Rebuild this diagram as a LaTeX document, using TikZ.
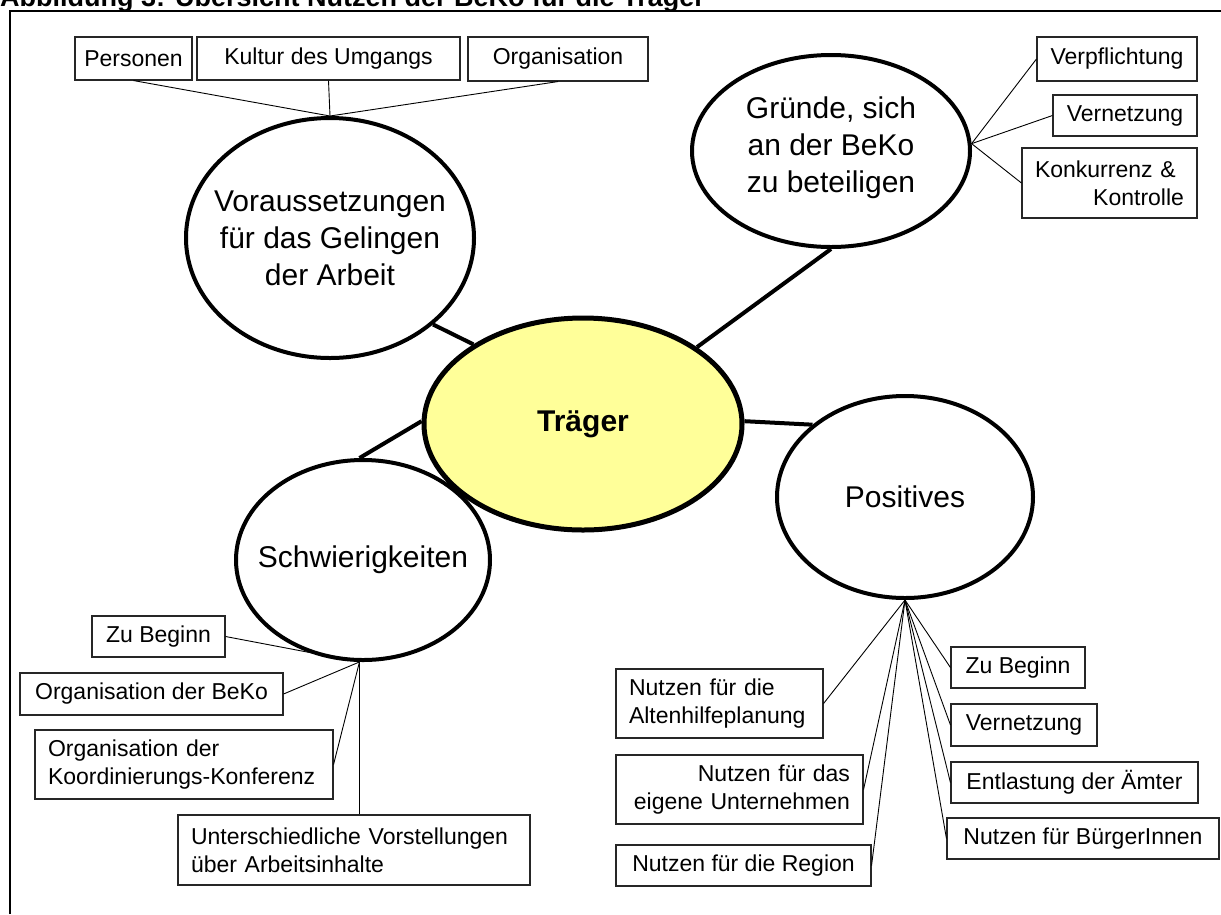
\documentclass[tikz,border=0pt]{standalone}
\usepackage{fontspec}
\setmainfont{Liberation Sans}
\usetikzlibrary{shapes.geometric}
\definecolor{traegerfill}{HTML}{FFFF99}
\begin{document}
\begin{tikzpicture}[x=1pt,y=-1pt,
  ell/.style={ellipse,draw,line width=4pt,inner sep=0pt},
  etext/.style={inner sep=0pt,align=center,font=\fontsize{30}{37}\selectfont},
  bx/.style={draw=black!85,line width=1.1pt,inner sep=0pt,font=\fontsize{23}{28}\selectfont},
  bxl/.style={bx,align=left,inner xsep=13pt},
  bxr/.style={bx,align=right,inner xsep=13pt},
  conn/.style={line width=4pt},
  twig/.style={line width=0.9pt},
]
\useasboundingbox (0,0) rectangle (1221,914);
% frame and title
\draw[line width=2pt] (10,914) -- (10,11) -- (1221,11);
\node[anchor=base west,inner sep=0pt,font=\bfseries\fontsize{27}{30}\selectfont] (title) at (0,6) {Abbildung 3: Übersicht Nutzen der BeKo für die Träger};

% ellipses
\node[ell,minimum width=288pt,minimum height=240pt] (V) at (330,238) {};
\node[etext] (Vt) at (V.center) {Voraussetzungen\\für das Gelingen\\der Arbeit};
\node[ell,minimum width=278pt,minimum height=192pt] (G) at (831,151) {};
\node[etext] (Gt) at ([yshift=3pt]G.center) {Gründe, sich\\an der BeKo\\zu beteiligen};
\node[ellipse,draw,line width=5pt,fill=traegerfill,inner sep=0pt,minimum width=318pt,minimum height=212pt] (T) at (583,424) {};
\node[inner sep=0pt,font=\bfseries\fontsize{30}{36}\selectfont] (Tt) at (T.center) {Träger};
\node[ell,minimum width=254pt,minimum height=200pt] (S) at (363,560) {};
\node[etext] (St) at (S.center) {Schwierigkeiten};
\node[ell,minimum width=256pt,minimum height=202pt] (P) at (905,497) {};
\node[etext] (Pt) at (P.center) {Positives};

% top boxes
\node[bx,minimum width=117pt,minimum height=43pt] (p1) at (133.5,58.5) {Personen};
\node[bx,minimum width=263pt,minimum height=43pt] (p2) at (328.5,58.5) {Kultur des Umgangs};
\node[bx,minimum width=180pt,minimum height=44pt] (p3) at (558,59) {Organisation};

% right boxes
\node[bx,minimum width=160pt,minimum height=44pt] (g1) at (1117,59) {Verpflichtung};
\node[bx,minimum width=144pt,minimum height=41pt] (g2) at (1125,115.5) {Vernetzung};
\node[bxl,text width=149pt,minimum height=70pt] (g3) at (1109.5,183) {Konkurrenz \&\\\hspace*{0pt plus 1filll}Kontrolle};

% bottom-left boxes
\node[bx,minimum width=133pt,minimum height=41pt] (s1) at (158.5,636.5) {Zu Beginn};
\node[bx,minimum width=263pt,minimum height=42pt] (s2) at (151.5,694) {Organisation der BeKo};
\node[bxl,text width=272pt,minimum height=69pt] (s3) at (184,764.5) {Organisation der\\Koordinierungs-Konferenz};
\node[bxl,text width=326pt,minimum height=70pt] (s4) at (354,850) {Unterschiedliche Vorstellungen\\über Arbeitsinhalte};

% bottom-right boxes
\node[bxl,text width=181pt,minimum height=69pt] (q1) at (719.5,703.5) {Nutzen für die\\Altenhilfeplanung};
\node[bxr,text width=221pt,minimum height=69pt] (q2) at (739.5,789.5) {Nutzen für das\hspace*{7pt}\\eigene Unternehmen};
\node[bx,minimum width=255pt,minimum height=41pt] (q3) at (743.5,865.5) {Nutzen für die Region};
\node[bx,minimum width=134pt,minimum height=41pt] (r1) at (1018,667.5) {Zu Beginn};
\node[bx,minimum width=146pt,minimum height=42pt] (r2) at (1024,725) {Vernetzung};
\node[bx,minimum width=247pt,minimum height=41pt] (r3) at (1074.5,782.5) {Entlastung der Ämter};
\node[bx,minimum width=272pt,minimum height=41pt] (r4) at (1083,838.5) {Nutzen für BürgerInnen};

% thick connectors
\draw[conn] (V.-40) -- (T.144);
\draw[conn] (G.-90) -- (T.34);
\draw[conn] (T.1) -- (P.142);
\draw[conn] (T.179) -- (S.92);

% convergence points
\coordinate (vc) at (V.north);
\coordinate (gc) at (G.3);
\coordinate (sc) at (S.-92);
\coordinate (pc) at (P.-90);

% thin connectors
\draw[twig] (p1.south) -- (vc);
\draw[twig] (p2.south) -- (vc);
\draw[twig] (p3.south) -- (vc);
\draw[twig] (gc) -- (g1.west);
\draw[twig] (gc) -- (g2.west);
\draw[twig] (gc) -- (g3.west);
\draw[twig] (sc) -- (s1.east);
\draw[twig] (sc) -- (s2.east);
\draw[twig] (sc) -- (s3.east);
\draw[twig] (sc) -- (sc |- s4.north);
\draw[twig] (pc) -- (q1.east);
\draw[twig] (pc) -- (q2.east);
\draw[twig] (pc) -- (q3.east);
\draw[twig] (pc) -- (r1.west);
\draw[twig] (pc) -- (r2.west);
\draw[twig] (pc) -- (r3.west);
\draw[twig] (pc) -- (r4.west);
\end{tikzpicture}
\end{document}
